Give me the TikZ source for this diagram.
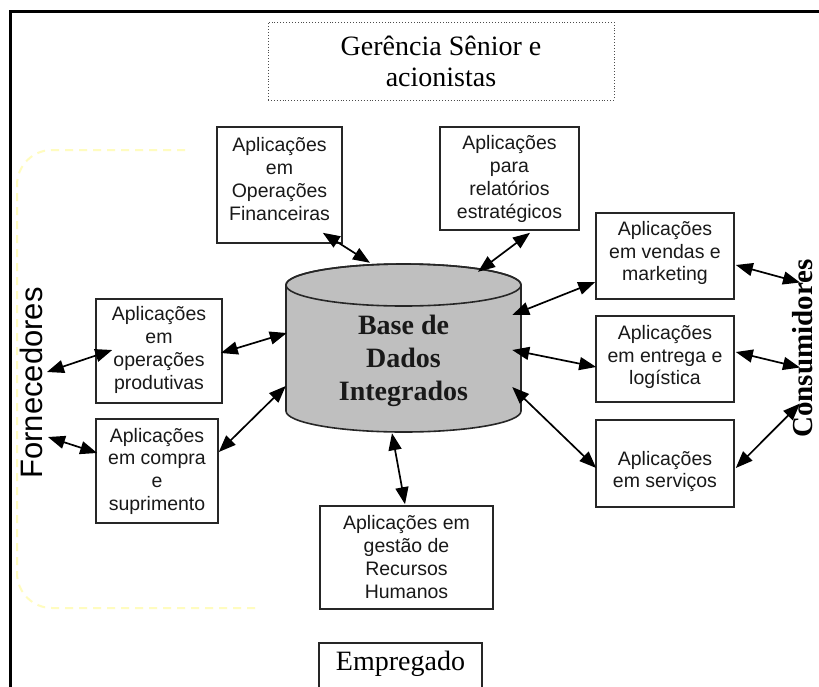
\documentclass[tikz,border=0pt]{standalone}
\usepackage{fontspec}
\setmainfont{Liberation Serif}
\newfontfamily\arialf{Liberation Sans}
\usetikzlibrary{arrows.meta,calc}
\begin{document}
\begin{tikzpicture}[x=1pt,y=-1pt,
  appbox/.style={draw=black!85, line width=1.6pt, inner sep=0pt},
  apptxt/.style={font=\arialf\fontsize{19.5}{22.7}\selectfont, align=center, inner sep=0pt, text=black!90},
  sertxt/.style={font=\fontsize{28}{31}\selectfont, align=center, inner sep=0pt},
  dbl/.style={{Triangle[length=17pt,width=13pt]}-{Triangle[length=17pt,width=13pt]}, line width=1.7pt}]
\clip (0,0) rectangle (819,686);
\fill[white] (0,0) rectangle (819,686);
% frame
\draw[line width=3pt] (10,700) -- (10,11) -- (830,11);
% yellow dashed area
\draw[yellow!25, line width=2pt, dash pattern=on 8pt off 6pt, rounded corners=35pt]
  (185,150) -- (17,150) -- (17,608) -- (255,608);
% Gerencia
\node[draw=black!70, dotted, line width=0.9pt, minimum width=346pt, minimum height=78pt, inner sep=0pt] (ger) at (441,61) {};
\node[sertxt] (gert) at (441,61) {Gerência Sênior e\\acionistas};
% boxes
\node[appbox, minimum width=125pt, minimum height=116pt] (fin) at (279.5,185) {};
\node[apptxt] (fint) at (279.5,179) {Aplicações\\em\\Operações\\Financeiras};
\node[appbox, minimum width=139pt, minimum height=103pt] (rel) at (509.5,178.5) {};
\node[apptxt] (relt) at (509.5,179) {Aplicações\\para\\relatórios\\estratégicos};
\node[appbox, minimum width=138pt, minimum height=86pt] (ven) at (665,256) {};
\node[apptxt] (vent) at (665,253) {Aplicações\\em vendas e\\marketing};
\node[appbox, minimum width=138pt, minimum height=86pt] (ent) at (665,359) {};
\node[apptxt] (entt) at (665,357) {Aplicações\\em entrega e\\logística};
\node[appbox, minimum width=138pt, minimum height=87pt] (ser) at (665,463.5) {};
\node[apptxt] (sert) at (665,471.5) {Aplicações\\em serviços};
\node[appbox, minimum width=126pt, minimum height=104pt] (prod) at (159,351) {};
\node[apptxt] (prodt) at (159,350) {Aplicações\\em\\operações\\produtivas};
\node[appbox, minimum width=122pt, minimum height=104pt] (comp) at (157,471) {};
\node[apptxt] (compt) at (157,471) {Aplicações\\em compra\\e\\suprimento};
\node[appbox, minimum width=173pt, minimum height=103pt] (rh) at (406.5,557.5) {};
\node[apptxt] (rht) at (406.5,557) {Aplicações em\\gestão de\\Recursos\\Humanos};
\node[appbox, minimum width=163pt, minimum height=57pt] (emp) at (400.5,671.5) {};
\node[sertxt] (empt) at (400.5,664) {Empregado};
% database cylinder
\node[minimum width=235pt, minimum height=168pt, inner sep=0pt] (db) at (403.5,348) {};
\filldraw[fill=black!25, draw=black!85, line width=1.6pt]
  (286,285) -- (286,411) arc[start angle=180, end angle=0, x radius=117.5, y radius=21]
  -- (521,285) arc[start angle=0, end angle=-180, x radius=117.5, y radius=21] -- cycle;
\draw[black!85, line width=1.6pt] (403.5,285) ellipse[x radius=117.5, y radius=21];
\node[sertxt, font=\bfseries\fontsize{28}{33}\selectfont, text=black!90] (dbt) at (403.5,361) {Base de\\Dados\\Integrados};
% side labels
\node[font=\arialf\fontsize{31}{31}\selectfont, rotate=90, anchor=base, inner sep=0pt] (forn) at (42,383) {Fornecedores};
\node[font=\bfseries\fontsize{29}{29}\selectfont, rotate=90, anchor=base, inner sep=0pt] (cons) at (812,348.5) {Consumidores};
% connectors
\draw[dbl] ($(fin.south east)+(-20,-11)$) -- ($(db.north)+(-33.5,-1)$);
\draw[dbl] ($(rel.south)+(20.5,2)$) -- ($(db.north)+(74.5,8)$);
\draw[dbl] ($(prod.east)+(-2,2)$) -- ($(db.west)+(1,-15)$);
\draw[dbl] ($(comp.east)+(0,-19)$) -- ($(db.west)+(0,38)$);
\draw[dbl] ($(forn.base)+(5,-11)$) -- ($(prod.west)+(17,-1)$);
\draw[dbl] ($(forn.base)+(6,54)$) -- ($(comp.west)+(2,-18)$);
\draw[dbl] ($(db.east)+(-9,-33)$) -- ($(ven.west)+(0,26)$);
\draw[dbl] ($(db.east)+(-9,2)$) -- ($(ent.west)+(1,8)$);
\draw[dbl] ($(db.east)+(-9,39)$) -- ($(ser.west)+(1,4.5)$);
\draw[dbl] ($(ven.east)+(1,9)$) -- ($(cons.base)+(-12,-66)$);
\draw[dbl] ($(ent.east)+(1,-7)$) -- ($(cons.base)+(-12,19)$);
\draw[dbl] ($(ser.east)+(1,4.5)$) -- ($(cons.base)+(-12,55)$);
\draw[dbl] ($(db.south)+(-11.5,1)$) -- ($(rh.north)+(-1.5,-1)$);
\end{tikzpicture}
\end{document}
